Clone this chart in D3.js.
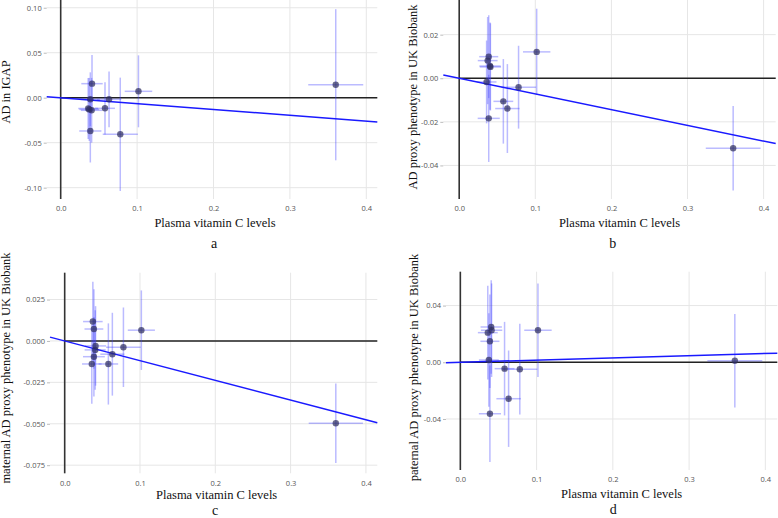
<!DOCTYPE html>
<html><head><meta charset="utf-8">
<script src="https://cdn.jsdelivr.net/npm/d3@7"></script>
<style>body{margin:0;background:#fff}svg{display:block}</style>
</head><body><svg id="c" width="778" height="518"></svg>
<script>
// Shared exposure (plasma vitamin C) SNP effects and SEs
const snpX    = [0.036, 0.0374, 0.0388, 0.0388, 0.0405, 0.041, 0.058, 0.0633, 0.078, 0.1018, 0.360];
const snpXErr = [0.013, 0.013, 0.0125, 0.0145, 0.014, 0.014, 0.013, 0.016, 0.023, 0.018, 0.036];

// Outcome effects per panel
const aY    = [-0.012, -0.013, -0.0018, -0.037, -0.014, 0.0156, -0.0118, -0.0018, -0.0407, 0.0071, 0.0144];
const aYErr = [0.034, 0.035, 0.030, 0.035, 0.036, 0.032, 0.029, 0.031, 0.063, 0.040, 0.084];
const bY    = [-0.0017, 0.0081, 0.0099, -0.0184, 0.0056, 0.0052, -0.0106, -0.0139, -0.0041, 0.0121, -0.0321];
const bYErr = [0.019, 0.020, 0.019, 0.020, 0.020, 0.020, 0.0194, 0.0204, 0.019, 0.0198, 0.0194];
const cY    = [-0.0139, 0.0117, 0.0072, -0.0095, -0.0054, -0.0030, -0.0139, -0.0080, -0.0038, 0.0065, -0.0497];
const cYErr = [0.024, 0.024, 0.024, 0.024, 0.024, 0.024, 0.0245, 0.025, 0.024, 0.024, 0.024];
const dY    = [0.0209, 0.0016, 0.0148, -0.0363, 0.0249, 0.0226, -0.0045, -0.0257, -0.0049, 0.0226, 0.0011];
const dYErr = [0.033, 0.033, 0.033, 0.034, 0.033, 0.033, 0.033, 0.034, 0.032, 0.033, 0.033];

// IVW slopes
const slopes = [-0.065, -0.0721, -0.119, 0.0155];

// Tick values/labels
const xTicks = [0, 0.1, 0.2, 0.3, 0.4];
const xTickLabels = ["0.0", "0.1", "0.2", "0.3", "0.4"];
const aYTicks = [-0.10, -0.05, 0, 0.05, 0.10];
const aYTickLabels = ["-0.10", "-0.05", "0.00", "0.05", "0.10"];
const bYTicks = [-0.04, -0.02, 0, 0.02];
const bYTickLabels = ["-0.04", "-0.02", "0.00", "0.02"];
const cYTicks = [-0.075, -0.05, -0.025, 0, 0.025];
const cYTickLabels = ["-0.075", "-0.050", "-0.025", "0.000", "0.025"];
const dYTicks = [-0.04, 0, 0.04];
const dYTickLabels = ["-0.04", "0.00", "0.04"];

const xTitle = "Plasma vitamin C levels";
const yTitles = ["AD in IGAP", "AD proxy phenotype in UK Biobank",
  "maternal AD proxy phenotype in UK Biobank", "paternal AD proxy phenotype in UK Biobank"];
const panelLetters = ["a", "b", "c", "d"];

const panels = [
  {y: aY, ye: aYErr, yt: aYTicks, ytl: aYTickLabels, slope: slopes[0], xd: [-0.0183, 0.4144], yd: [-0.1126, 0.1086],
   box: {l: 46.7, r: 377.3, t: 0, b: 199}, ytX: 5.7, ytY: 92, xtY: 222.7, lbl: [214, 243.5]},
  {y: bY, ye: bYErr, yt: bYTicks, ytl: bYTickLabels, slope: slopes[1], xd: [-0.0209, 0.4159], yd: [-0.0554, 0.0359],
   box: {l: 443.3, r: 775.7, t: 0, b: 199}, ytX: 412.7, ytY: 97, xtY: 222.7, lbl: [612.7, 243.5]},
  {y: cY, ye: cYErr, yt: cYTicks, ytl: cYTickLabels, slope: slopes[2], xd: [-0.0195, 0.4151], yd: [-0.0799, 0.0412],
   box: {l: 50, r: 377.3, t: 272.7, b: 473.3}, ytX: 5.7, ytY: 368, xtY: 495, lbl: [215, 510]},
  {y: dY, ye: dYErr, yt: dYTicks, ytl: dYTickLabels, slope: slopes[3], xd: [-0.0188, 0.4157], yd: [-0.076, 0.0639],
   box: {l: 446, r: 777.3, t: 271.7, b: 470}, ytX: 413.3, ytY: 367.5, xtY: 494, lbl: [613.3, 509.5]}
];

const svg = d3.select("#c");

panels.forEach((p, i) => {
  const x = d3.scaleLinear().domain(p.xd).range([p.box.l, p.box.r]);
  const y = d3.scaleLinear().domain(p.yd).range([p.box.b, p.box.t]);
  const g = svg.append("g");

  // grid
  g.selectAll(".gy").data(p.yt).join("line")
    .attr("x1", p.box.l).attr("x2", p.box.r).attr("y1", d => y(d)).attr("y2", d => y(d))
    .attr("stroke", "#e6e6e6").attr("stroke-width", 1);
  g.selectAll(".gx").data(xTicks).join("line")
    .attr("y1", p.box.t).attr("y2", p.box.b).attr("x1", d => x(d)).attr("x2", d => x(d))
    .attr("stroke", "#e6e6e6").attr("stroke-width", 1);

  // y axis ticks + labels
  const yAxis = d3.axisLeft(y).tickValues(p.yt).tickFormat((d, k) => p.ytl[k]).tickSize(3).tickPadding(2);
  const ya = g.append("g").attr("transform", `translate(${p.box.l},0)`).call(yAxis);
  ya.select(".domain").remove();
  ya.selectAll("line").attr("stroke", "#bbb");
  ya.selectAll("text").attr("fill", "#555").style("font-family", "'Open Sans', sans-serif").style("font-size", "7.5px");

  const xAxis = d3.axisBottom(x).tickValues(xTicks).tickFormat((d, k) => xTickLabels[k]).tickSize(0).tickPadding(7);
  const xa = g.append("g").attr("transform", `translate(0,${p.box.b})`).call(xAxis);
  xa.select(".domain").remove();
  xa.selectAll("text").attr("fill", "#555").style("font-family", "'Open Sans', sans-serif").style("font-size", "7.5px");

  // zero lines
  g.append("line").attr("x1", x(0)).attr("x2", x(0)).attr("y1", p.box.t).attr("y2", p.box.b)
    .attr("stroke", "#333").attr("stroke-width", 1.6);
  g.append("line").attr("x1", x(0)).attr("x2", p.box.r).attr("y1", y(0)).attr("y2", y(0))
    .attr("stroke", "#222").attr("stroke-width", 1.4);

  const idx = d3.range(snpX.length);
  // error bars
  g.selectAll(".ev").data(idx).join("line")
    .attr("x1", k => x(snpX[k])).attr("x2", k => x(snpX[k]))
    .attr("y1", k => y(p.y[k] - p.ye[k])).attr("y2", k => y(p.y[k] + p.ye[k]))
    .attr("stroke", "rgba(60,60,255,0.35)").attr("stroke-width", 1.5);
  g.selectAll(".eh").data(idx).join("line")
    .attr("y1", k => y(p.y[k])).attr("y2", k => y(p.y[k]))
    .attr("x1", k => x(snpX[k] - snpXErr[k])).attr("x2", k => x(snpX[k] + snpXErr[k]))
    .attr("stroke", "rgba(60,60,255,0.35)").attr("stroke-width", 1.5);

  // regression line
  g.append("line")
    .attr("x1", x(p.xd[0])).attr("y1", y(p.slope * p.xd[0]))
    .attr("x2", x(p.xd[1])).attr("y2", y(p.slope * p.xd[1]))
    .attr("stroke", "#1a1aff").attr("stroke-width", 1.5);

  // points
  g.selectAll(".pt").data(idx).join("circle")
    .attr("cx", k => x(snpX[k])).attr("cy", k => y(p.y[k])).attr("r", 3.2)
    .attr("fill", "#2e2e5e").attr("fill-opacity", 0.72);

  // titles
  g.append("text").attr("x", (p.box.l + p.box.r) / 2 + (i % 2 === 0 ? 3 : 10)).attr("y", p.xtY).attr("dy", "0.35em")
    .attr("text-anchor", "middle").style("font-family", "'Liberation Serif', 'Times New Roman', serif")
    .style("font-size", "12.5px").attr("fill", "#111").text(xTitle);
  g.append("text").attr("transform", `translate(${p.ytX},${p.ytY}) rotate(-90)`).attr("dy", "0.35em")
    .attr("text-anchor", "middle").style("font-family", "'Liberation Serif', 'Times New Roman', serif")
    .style("font-size", "12.5px").attr("fill", "#111").text(yTitles[i]);
  g.append("text").attr("x", p.lbl[0]).attr("y", p.lbl[1]).attr("dy", "0.35em")
    .attr("text-anchor", "middle").style("font-family", "'Liberation Serif', 'Times New Roman', serif")
    .style("font-size", "14px").attr("fill", "#111").text(panelLetters[i]);
});
</script>
</body></html>
